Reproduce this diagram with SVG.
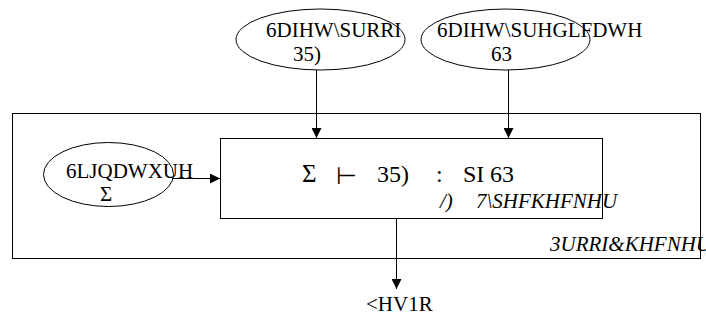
<svg xmlns="http://www.w3.org/2000/svg" width="706" height="322" viewBox="0 0 706 322">
  <style>
    .shape { fill: #fff; stroke: #000; stroke-width: 1; }
    .frame { fill: none; stroke: #000; stroke-width: 1; }
    .t { font-family: 'Liberation Serif', 'Times New Roman', serif; font-size: 21px; fill: #000; }
    .big { font-size: 24px; }
    .i { font-style: italic; }
    .tack { font-family: 'DejaVu Sans', sans-serif; font-size: 24px; }
    .edge { stroke: #000; stroke-width: 1; fill: none; marker-end: url(#arrow); }
  </style>
  <defs>
    <marker id="arrow" viewBox="0 0 10 10" refX="10" refY="5" markerWidth="10" markerHeight="10" markerUnits="userSpaceOnUse" orient="auto">
      <path d="M0,0 L10,5 L0,10 Z" fill="#000"/>
    </marker>
  </defs>

  <!-- outer frame: the proof checker -->
  <g id="proof-checker">
    <rect class="frame" x="12.5" y="113.5" width="688" height="145"/>
    <text class="t i" x="550" y="251" font-size="23">3URRI&amp;KHFNHU</text>
  </g>

  <!-- central judgement box -->
  <g id="type-checker">
    <rect class="shape" x="220.5" y="138.5" width="382" height="80"/>
    <text class="t big" y="182">
      <tspan x="302" font-size="25">Σ</tspan>
      <tspan x="336" class="tack" dy="2">⊢</tspan>
      <tspan x="377" dy="-2">35)</tspan>
      <tspan x="436">:</tspan>
      <tspan x="463">SI</tspan>
      <tspan x="490">63</tspan>
    </text>
    <text class="t i" y="208">
      <tspan x="440">/)</tspan>
      <tspan x="476">7\SHFKHFNHU</tspan>
    </text>
  </g>

  <g id="safety-proof">
    <ellipse class="shape" cx="320.5" cy="39.5" rx="84.5" ry="30.5"/>
    <text class="t" x="266" y="37">6DIHW\SURRI</text>
    <text class="t" x="293" y="61">35)</text>
  </g>

  <g id="safety-predicate">
    <ellipse class="shape" cx="505.5" cy="39.5" rx="84.5" ry="30.5"/>
    <text class="t" x="437" y="37">6DIHW\SUHGLFDWH</text>
    <text class="t" x="491" y="61">63</text>
  </g>

  <g id="signature">
    <ellipse class="shape" cx="108.5" cy="174.5" rx="65" ry="32"/>
    <text class="t" x="66" y="178">6LJQDWXUH</text>
    <text class="t" x="100" y="201">Σ</text>
  </g>

  <g id="yes-no">
    <text class="t" x="366" y="311">&lt;HV1R</text>
  </g>

  <!-- connectors -->
  <g id="connectors">
    <line class="edge" x1="316.5" y1="70" x2="316.5" y2="138"/>
    <line class="edge" x1="508.5" y1="70" x2="508.5" y2="138"/>
    <line class="edge" x1="173" y1="178.5" x2="220" y2="178.5"/>
    <line class="edge" x1="396.5" y1="219" x2="396.5" y2="289"/>
  </g>
</svg>
